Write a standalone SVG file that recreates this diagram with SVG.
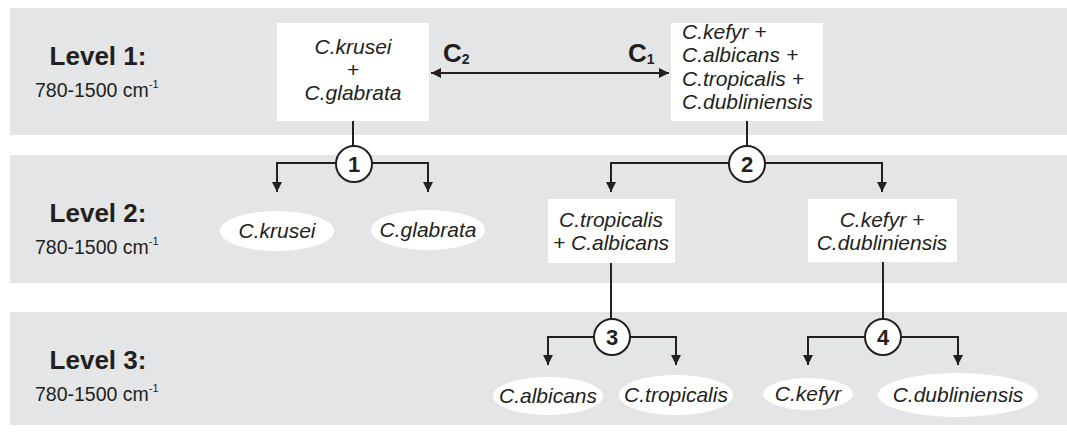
<svg xmlns="http://www.w3.org/2000/svg" width="1067" height="435" viewBox="0 0 1067 435">
  <defs>
    <marker id="arrow" viewBox="0 0 10 10" refX="10" refY="5" markerWidth="10" markerHeight="10" markerUnits="userSpaceOnUse" orient="auto-start-reverse">
      <path d="M0,0 L10,5 L0,10 Z" fill="#231f20"/>
    </marker>
  </defs>
  <style>
    .band { fill: #e4e5e6; }
    .box { fill: #ffffff; }
    .oval { fill: #ffffff; }
    .lvl { font-family: "Liberation Sans", Arial, sans-serif; font-weight: bold; font-size: 26px; fill: #231f20; text-anchor: middle; }
    .rng { font-family: "Liberation Sans", Arial, sans-serif; font-size: 19.5px; fill: #231f20; }
    .sp { font-family: "Liberation Sans", Arial, sans-serif; font-style: italic; font-size: 21px; fill: #231f20; }
    .mid { text-anchor: middle; }
    .num { font-family: "Liberation Sans", Arial, sans-serif; font-weight: bold; font-size: 22px; fill: #231f20; text-anchor: middle; }
    .cc { font-family: "Liberation Sans", Arial, sans-serif; font-weight: bold; font-size: 26px; fill: #231f20; }
    .sub { font-size: 14px; }
    .ln { fill: none; stroke: #231f20; stroke-width: 2; }
    .circ { fill: #ffffff; stroke: #231f20; stroke-width: 2; }
  </style>

  <!-- level bands -->
  <g id="bands">
    <rect class="band" x="10" y="8" width="1057" height="127"/>
    <rect class="band" x="10" y="155" width="1057" height="128"/>
    <rect class="band" x="10" y="312" width="1057" height="113"/>
  </g>

  <!-- level labels -->
  <g id="level1">
    <text class="lvl" x="98" y="65">Level 1:</text>
    <text class="rng" x="35" y="97">780-1500 cm<tspan font-size="11" dy="-9">-1</tspan></text>
  </g>
  <g id="level2">
    <text class="lvl" x="98" y="222">Level 2:</text>
    <text class="rng" x="35" y="254">780-1500 cm<tspan font-size="11" dy="-9">-1</tspan></text>
  </g>
  <g id="level3">
    <text class="lvl" x="98" y="369">Level 3:</text>
    <text class="rng" x="35" y="401">780-1500 cm<tspan font-size="11" dy="-9">-1</tspan></text>
  </g>

  <!-- connectors -->
  <g id="connectors">
    <line class="ln" x1="431" y1="73" x2="669" y2="73" marker-start="url(#arrow)" marker-end="url(#arrow)"/>
    <line class="ln" x1="353" y1="121" x2="353" y2="146"/>
    <path class="ln" d="M277,163 H428"/>
    <line class="ln" x1="277" y1="162" x2="277" y2="192" marker-end="url(#arrow)"/>
    <line class="ln" x1="428" y1="162" x2="428" y2="192" marker-end="url(#arrow)"/>
    <line class="ln" x1="747" y1="121" x2="747" y2="146"/>
    <path class="ln" d="M611,163 H882"/>
    <line class="ln" x1="611" y1="162" x2="611" y2="192" marker-end="url(#arrow)"/>
    <line class="ln" x1="882" y1="162" x2="882" y2="192" marker-end="url(#arrow)"/>
    <line class="ln" x1="611" y1="263" x2="611" y2="320"/>
    <path class="ln" d="M548,337 H676"/>
    <line class="ln" x1="548" y1="336" x2="548" y2="365" marker-end="url(#arrow)"/>
    <line class="ln" x1="676" y1="336" x2="676" y2="365" marker-end="url(#arrow)"/>
    <line class="ln" x1="883" y1="262" x2="883" y2="320"/>
    <path class="ln" d="M808,337 H958"/>
    <line class="ln" x1="808" y1="336" x2="808" y2="365" marker-end="url(#arrow)"/>
    <line class="ln" x1="958" y1="336" x2="958" y2="365" marker-end="url(#arrow)"/>
  </g>

  <!-- distance labels on the level 1 link -->
  <g id="label-c2">
    <text class="cc" x="443" y="62">C<tspan class="sub" dy="2">2</tspan></text>
  </g>
  <g id="label-c1">
    <text class="cc" x="628" y="62">C<tspan class="sub" dy="2">1</tspan></text>
  </g>

  <!-- level 1 groups -->
  <g id="group-krusei-glabrata">
    <rect class="box" x="277" y="23" width="152" height="98"/>
    <text class="sp mid" x="353" y="54">C.krusei</text>
    <text class="sp mid" x="353" y="77" font-style="normal">+</text>
    <text class="sp mid" x="353" y="100">C.glabrata</text>
  </g>
  <g id="group-four">
    <rect class="box" x="671" y="23" width="152" height="98"/>
    <text class="sp" x="682" y="39">C.kefyr +</text>
    <text class="sp" x="682" y="62">C.albicans +</text>
    <text class="sp" x="682" y="86">C.tropicalis +</text>
    <text class="sp" x="682" y="109">C.dubliniensis</text>
  </g>

  <!-- split points -->
  <g id="split-1">
    <circle class="circ" cx="354" cy="164" r="18"/>
    <text class="num" x="354" y="172">1</text>
  </g>
  <g id="split-2">
    <circle class="circ" cx="747" cy="164" r="18"/>
    <text class="num" x="747" y="172">2</text>
  </g>
  <g id="split-3">
    <circle class="circ" cx="612" cy="337" r="18"/>
    <text class="num" x="612" y="345">3</text>
  </g>
  <g id="split-4">
    <circle class="circ" cx="883" cy="337" r="18"/>
    <text class="num" x="883" y="345">4</text>
  </g>

  <!-- level 2 results -->
  <g id="leaf-krusei">
    <ellipse class="oval" cx="277" cy="231" rx="57" ry="20"/>
    <text class="sp mid" x="277" y="238">C.krusei</text>
  </g>
  <g id="leaf-glabrata">
    <ellipse class="oval" cx="428" cy="230" rx="57" ry="20"/>
    <text class="sp mid" x="428" y="237">C.glabrata</text>
  </g>
  <g id="group-tropicalis-albicans">
    <rect class="box" x="548" y="199" width="127" height="64"/>
    <text class="sp mid" x="611" y="227">C.tropicalis</text>
    <text class="sp mid" x="611" y="250">+ C.albicans</text>
  </g>
  <g id="group-kefyr-dubliniensis">
    <rect class="box" x="808" y="199" width="149" height="63"/>
    <text class="sp mid" x="882" y="227">C.kefyr +</text>
    <text class="sp mid" x="882" y="250">C.dubliniensis</text>
  </g>

  <!-- level 3 results -->
  <g id="leaf-albicans">
    <ellipse class="oval" cx="548" cy="396" rx="55" ry="19"/>
    <text class="sp mid" x="548" y="403">C.albicans</text>
  </g>
  <g id="leaf-tropicalis">
    <ellipse class="oval" cx="676" cy="395" rx="57" ry="20"/>
    <text class="sp mid" x="676" y="402">C.tropicalis</text>
  </g>
  <g id="leaf-kefyr">
    <ellipse class="oval" cx="808" cy="394" rx="45" ry="16"/>
    <text class="sp mid" x="808" y="401">C.kefyr</text>
  </g>
  <g id="leaf-dubliniensis">
    <ellipse class="oval" cx="958" cy="395" rx="80" ry="22"/>
    <text class="sp mid" x="958" y="402">C.dubliniensis</text>
  </g>
</svg>
